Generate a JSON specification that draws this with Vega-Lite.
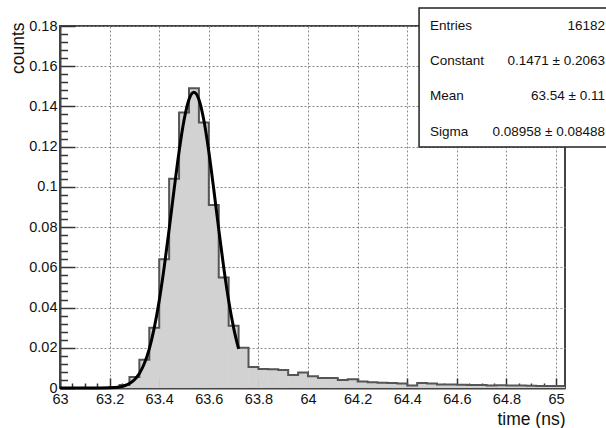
{
  "$schema": "https://vega.github.io/schema/vega-lite/v6.json",
  "width": 505,
  "height": 362,
  "autosize": {"type": "none"},
  "padding": {"left": 60, "top": 26, "right": 41, "bottom": 40},
  "background": "white",
  "config": {
    "view": {"stroke": "#444", "strokeWidth": 2},
    "axis": {
      "zindex": 1,
      "labelFont": "Liberation Sans",
      "titleFont": "Liberation Sans",
      "labelColor": "#111",
      "titleColor": "#111",
      "labelFontSize": 14.5,
      "titleFontSize": 17.5,
      "titleFontWeight": "normal",
      "domainColor": "#444",
      "domainWidth": 2,
      "tickColor": "#333",
      "tickWidth": 1.5,
      "gridColor": "#888",
      "gridDash": [2, 2],
      "gridWidth": 1
    }
  },
  "datasets": {
    "hist": [
      {"lo": 63.00, "hi": 63.04, "v": 0},
      {"lo": 63.04, "hi": 63.08, "v": 0},
      {"lo": 63.08, "hi": 63.12, "v": 0},
      {"lo": 63.12, "hi": 63.16, "v": 0},
      {"lo": 63.16, "hi": 63.20, "v": 0},
      {"lo": 63.20, "hi": 63.24, "v": 0.0004},
      {"lo": 63.24, "hi": 63.28, "v": 0.0015},
      {"lo": 63.28, "hi": 63.32, "v": 0.0055},
      {"lo": 63.32, "hi": 63.36, "v": 0.014},
      {"lo": 63.36, "hi": 63.40, "v": 0.030},
      {"lo": 63.40, "hi": 63.44, "v": 0.064},
      {"lo": 63.44, "hi": 63.48, "v": 0.104},
      {"lo": 63.48, "hi": 63.52, "v": 0.137},
      {"lo": 63.52, "hi": 63.56, "v": 0.149},
      {"lo": 63.56, "hi": 63.60, "v": 0.132},
      {"lo": 63.60, "hi": 63.64, "v": 0.091},
      {"lo": 63.64, "hi": 63.68, "v": 0.055},
      {"lo": 63.68, "hi": 63.72, "v": 0.031},
      {"lo": 63.72, "hi": 63.76, "v": 0.020},
      {"lo": 63.76, "hi": 63.80, "v": 0.0105},
      {"lo": 63.80, "hi": 63.84, "v": 0.0095},
      {"lo": 63.84, "hi": 63.88, "v": 0.0093},
      {"lo": 63.88, "hi": 63.92, "v": 0.009},
      {"lo": 63.92, "hi": 63.96, "v": 0.0065},
      {"lo": 63.96, "hi": 64.00, "v": 0.0077},
      {"lo": 64.00, "hi": 64.04, "v": 0.0058},
      {"lo": 64.04, "hi": 64.08, "v": 0.005},
      {"lo": 64.08, "hi": 64.12, "v": 0.005},
      {"lo": 64.12, "hi": 64.16, "v": 0.004},
      {"lo": 64.16, "hi": 64.20, "v": 0.0043},
      {"lo": 64.20, "hi": 64.24, "v": 0.0032},
      {"lo": 64.24, "hi": 64.28, "v": 0.0028},
      {"lo": 64.28, "hi": 64.32, "v": 0.0026},
      {"lo": 64.32, "hi": 64.36, "v": 0.0025},
      {"lo": 64.36, "hi": 64.40, "v": 0.0022},
      {"lo": 64.40, "hi": 64.44, "v": 0.0013},
      {"lo": 64.44, "hi": 64.48, "v": 0.0025},
      {"lo": 64.48, "hi": 64.52, "v": 0.0022},
      {"lo": 64.52, "hi": 64.56, "v": 0.0018},
      {"lo": 64.56, "hi": 64.60, "v": 0.0017},
      {"lo": 64.60, "hi": 64.64, "v": 0.0016},
      {"lo": 64.64, "hi": 64.68, "v": 0.0015},
      {"lo": 64.68, "hi": 64.72, "v": 0.0015},
      {"lo": 64.72, "hi": 64.76, "v": 0.0013},
      {"lo": 64.76, "hi": 64.80, "v": 0.0014},
      {"lo": 64.80, "hi": 64.84, "v": 0.0012},
      {"lo": 64.84, "hi": 64.88, "v": 0.0012},
      {"lo": 64.88, "hi": 64.92, "v": 0.0011},
      {"lo": 64.92, "hi": 64.96, "v": 0.001},
      {"lo": 64.96, "hi": 65.00, "v": 0.001},
      {"lo": 65.00, "hi": 65.04, "v": 0.001},
      {"lo": 65.04, "hi": 65.08, "v": 0.001}
    ],
    "fit": [
      {"t": 63.00, "f": 0},
      {"t": 63.10, "f": 0},
      {"t": 63.16, "f": 0.00002},
      {"t": 63.20, "f": 0.0001},
      {"t": 63.24, "f": 0.0005},
      {"t": 63.26, "f": 0.0011},
      {"t": 63.28, "f": 0.0022},
      {"t": 63.30, "f": 0.0041},
      {"t": 63.32, "f": 0.0072},
      {"t": 63.34, "f": 0.0122},
      {"t": 63.36, "f": 0.0195},
      {"t": 63.38, "f": 0.0299},
      {"t": 63.40, "f": 0.0434},
      {"t": 63.42, "f": 0.0600},
      {"t": 63.44, "f": 0.0789},
      {"t": 63.46, "f": 0.0987},
      {"t": 63.48, "f": 0.1175},
      {"t": 63.50, "f": 0.1331},
      {"t": 63.52, "f": 0.1435},
      {"t": 63.54, "f": 0.1471},
      {"t": 63.56, "f": 0.1435},
      {"t": 63.58, "f": 0.1331},
      {"t": 63.60, "f": 0.1175},
      {"t": 63.62, "f": 0.0987},
      {"t": 63.64, "f": 0.0789},
      {"t": 63.66, "f": 0.0600},
      {"t": 63.68, "f": 0.0434},
      {"t": 63.70, "f": 0.0299},
      {"t": 63.72, "f": 0.0195}
    ],
    "stats": [
      {"names": ["Entries", "Constant", "Mean", "Sigma"],
       "vals": ["16182", "0.1471 ± 0.2063", "63.54 ± 0.11", "0.08958 ± 0.08488"]}
    ]
  },
  "encoding": {
    "x": {
      "type": "quantitative",
      "scale": {"domain": [63, 65.036], "nice": false, "zero": false},
      "axis": {
        "title": "time (ns)",
        "titleAnchor": "end",
        "titleAlign": "right",
        "titlePadding": 0,
        "values": [63, 63.05, 63.1, 63.15, 63.2, 63.25, 63.3, 63.35, 63.4, 63.45, 63.5, 63.55, 63.6, 63.65, 63.7, 63.75, 63.8, 63.85, 63.9, 63.95, 64, 64.05, 64.1, 64.15, 64.2, 64.25, 64.3, 64.35, 64.4, 64.45, 64.5, 64.55, 64.6, 64.65, 64.7, 64.75, 64.8, 64.85, 64.9, 64.95, 65],
        "labelExpr": "abs(datum.value*5 - round(datum.value*5)) < 0.000001 ? format(datum.value, '~g') : ''",
        "labelPadding": 14,
        "labelOverlap": false,
        "labelFlush": false,
        "tickSize": {"condition": {"test": "abs(datum.value*5 - round(datum.value*5)) < 0.000001", "value": -10}, "value": -5},
        "gridOpacity": {"condition": {"test": "abs(datum.value*5 - round(datum.value*5)) < 0.000001", "value": 1}, "value": 0}
      }
    },
    "y": {
      "type": "quantitative",
      "scale": {"domain": [0, 0.18], "nice": false},
      "axis": {
        "title": "counts",
        "titleAnchor": "end",
        "titleAlign": "right",
        "titlePadding": 1,
        "titleY": -4,
        "values": [0, 0.004, 0.008, 0.012, 0.016, 0.02, 0.024, 0.028, 0.032, 0.036, 0.04, 0.044, 0.048, 0.052, 0.056, 0.06, 0.064, 0.068, 0.072, 0.076, 0.08, 0.084, 0.088, 0.092, 0.096, 0.1, 0.104, 0.108, 0.112, 0.116, 0.12, 0.124, 0.128, 0.132, 0.136, 0.14, 0.144, 0.148, 0.152, 0.156, 0.16, 0.164, 0.168, 0.172, 0.176, 0.18],
        "labelExpr": "abs(datum.value*50 - round(datum.value*50)) < 0.000001 ? format(datum.value, '~g') : ''",
        "labelPadding": 18,
        "labelOverlap": false,
        "labelFlush": false,
        "tickSize": {"condition": {"test": "abs(datum.value*50 - round(datum.value*50)) < 0.000001", "value": -15}, "value": -7.5},
        "gridOpacity": {"condition": {"test": "abs(datum.value*50 - round(datum.value*50)) < 0.000001", "value": 1}, "value": 0}
      }
    }
  },
  "layer": [
    {
      "data": {"name": "hist"},
      "mark": {"type": "rect", "fill": "#d2d2d2", "stroke": "#d2d2d2", "strokeWidth": 0.6, "clip": true},
      "encoding": {
        "x": {"field": "lo", "type": "quantitative"},
        "x2": {"field": "hi"},
        "y": {"field": "v", "type": "quantitative"},
        "y2": {"datum": 0}
      }
    },
    {
      "data": {"name": "hist"},
      "mark": {"type": "line", "interpolate": "step-after", "stroke": "#555", "strokeWidth": 2, "clip": true},
      "encoding": {
        "x": {"field": "lo", "type": "quantitative"},
        "y": {"field": "v", "type": "quantitative"}
      }
    },
    {
      "data": {"name": "fit"},
      "mark": {"type": "line", "interpolate": "monotone", "stroke": "#000", "strokeWidth": 3, "zindex": 2},
      "encoding": {
        "x": {"field": "t", "type": "quantitative"},
        "y": {"field": "f", "type": "quantitative"}
      }
    },
    {
      "data": {"name": "stats"},
      "mark": {"type": "rect", "fill": "white", "stroke": "#222", "strokeWidth": 1.5, "clip": false, "zindex": 2},
      "encoding": {
        "x": {"datum": 64.4476},
        "x2": {"datum": 65.3},
        "y": {"datum": 0.11984},
        "y2": {"datum": 0.18895}
      }
    },
    {
      "data": {"name": "stats"},
      "mark": {"type": "text", "align": "left", "baseline": "middle", "font": "Liberation Sans", "fontSize": 13.5, "lineHeight": 35.2, "color": "#111", "clip": false, "zindex": 3},
      "encoding": {
        "x": {"datum": 64.492},
        "y": {"datum": 0.18},
        "text": {"field": "names"}
      }
    },
    {
      "data": {"name": "stats"},
      "mark": {"type": "text", "align": "right", "baseline": "middle", "font": "Liberation Sans", "fontSize": 13.5, "lineHeight": 35.2, "color": "#111", "clip": false, "zindex": 3},
      "encoding": {
        "x": {"datum": 65.197},
        "y": {"datum": 0.18},
        "text": {"field": "vals"}
      }
    }
  ]
}
